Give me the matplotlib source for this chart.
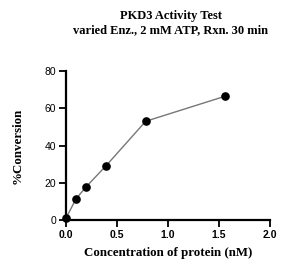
import matplotlib
matplotlib.use("Agg")
import matplotlib.pyplot as plt

conc_nM = [0.0, 0.0977, 0.1953, 0.3906, 0.7813, 1.5625]
conversion = [1.0, 11.3, 17.7, 29.0, 53.0, 66.5]
xticks = [0.0, 0.5, 1.0, 1.5, 2.0]
yticks = [0, 20, 40, 60, 80]

fig = plt.figure(figsize=(3.08, 2.74), dpi=100)
ax = fig.add_axes([66/308, 1-220/274, 204/308, 149/274])
ax.plot(conc_nM, conversion, color="#777777", lw=1.0, marker="o",
        mfc="black", mec="black", ms=5.2, clip_on=False, zorder=3)
ax.set_xlim(0, 2.0)
ax.set_ylim(0, 80)
ax.set_xticks(xticks)
ax.set_xticklabels([f"{v:.1f}" for v in xticks], fontfamily="Liberation Sans",
                   fontweight="bold", fontsize=7.5)
ax.set_yticks(yticks)
ax.set_yticklabels([str(v) for v in yticks], fontfamily="Liberation Sans", fontsize=7.5)
for s in ["top", "right"]:
    ax.spines[s].set_visible(False)
for s in ["left", "bottom"]:
    ax.spines[s].set_linewidth(1.6)
ax.tick_params(direction="out", length=5, width=1.3, pad=2)
ax.set_xlabel("Concentration of protein (nM)", fontfamily="Liberation Serif",
              fontweight="bold", fontsize=9.3, labelpad=5)
ax.set_ylabel("%Conversion", fontfamily="Liberation Serif",
              fontweight="bold", fontsize=9.3, labelpad=15)
fig.text(0.555, 1-23/274, "PKD3 Activity Test\nvaried Enz., 2 mM ATP, Rxn. 30 min",
         ha="center", va="center", fontfamily="Liberation Serif",
         fontweight="bold", fontsize=9, linespacing=1.3)
fig.savefig("out.png", dpi=100)
